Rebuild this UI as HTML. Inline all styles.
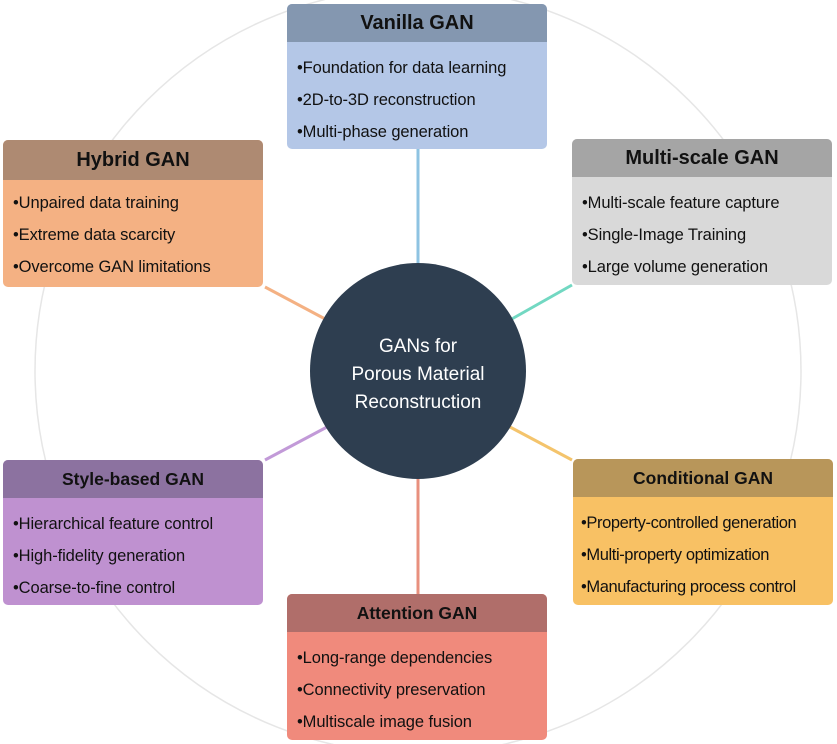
<!DOCTYPE html>
<html><head><meta charset="utf-8"><style>
body{margin:0;width:837px;height:744px;background:#fff;position:relative;overflow:hidden;font-family:"Liberation Sans",sans-serif}
.b{position:absolute;width:260px;border-radius:5px;overflow:hidden}
.h{height:38px;line-height:38px;text-align:center;font-weight:bold;font-size:20px;color:#111}
.bd{padding:10px 0 0 10px;font-size:16.5px;color:#111;letter-spacing:-0.1px}
.bd div{height:32px;line-height:32px;white-space:nowrap}
</style></head><body>
<svg width="837" height="744" style="position:absolute;left:0;top:0">
<circle cx="418" cy="371" r="383" fill="none" stroke="#e6e6e6" stroke-width="1.5"/>
<line x1="418" y1="149" x2="418" y2="265" stroke="#8ec3e2" stroke-width="3"/>
<line x1="265" y1="287" x2="327" y2="320" stroke="#f4b183" stroke-width="3"/>
<line x1="572" y1="285" x2="510" y2="320" stroke="#72d8c2" stroke-width="3"/>
<line x1="265" y1="460" x2="327" y2="427" stroke="#c29ad8" stroke-width="3"/>
<line x1="572" y1="460" x2="510" y2="427" stroke="#f4c46c" stroke-width="3"/>
<line x1="418" y1="478" x2="418" y2="594" stroke="#e8907e" stroke-width="3"/>
<circle cx="418" cy="371" r="108" fill="#2e3e50"/>
<text x="418" y="352" fill="#fff" font-size="19" text-anchor="middle" font-family="Liberation Sans">GANs for</text>
<text x="418" y="380" fill="#fff" font-size="19" text-anchor="middle" font-family="Liberation Sans">Porous Material</text>
<text x="418" y="408" fill="#fff" font-size="19" text-anchor="middle" font-family="Liberation Sans">Reconstruction</text>
</svg>
<div class="b" style="left:287px;top:4px;height:145px;background:#b4c7e7"><div class="h" style="background:#8497b0">Vanilla GAN</div><div class="bd"><div>•Foundation for data learning</div><div>•2D-to-3D reconstruction</div><div>•Multi-phase generation</div></div></div>
<div class="b" style="left:3px;top:140px;height:147px;background:#f4b183"><div class="h" style="background:#ae8a72;height:40px;line-height:40px">Hybrid GAN</div><div class="bd" style="padding-top:7px"><div>•Unpaired data training</div><div>•Extreme data scarcity</div><div>•Overcome GAN limitations</div></div></div>
<div class="b" style="left:572px;top:139px;height:146px;background:#d9d9d9"><div class="h" style="background:#a5a5a5">Multi-scale GAN</div><div class="bd"><div>•Multi-scale feature capture</div><div>•Single-Image Training</div><div>•Large volume generation</div></div></div>
<div class="b" style="left:3px;top:460px;height:145px;background:#bf91d0"><div class="h" style="background:#8c72a0;font-size:17.5px">Style-based GAN</div><div class="bd"><div>•Hierarchical feature control</div><div>•High-fidelity generation</div><div>•Coarse-to-fine control</div></div></div>
<div class="b" style="left:573px;top:459px;height:146px;background:#f8c164"><div class="h" style="background:#b8965a;font-size:17.5px">Conditional GAN</div><div class="bd" style="padding-left:8px;letter-spacing:-0.4px"><div>•Property-controlled generation</div><div>•Multi-property optimization</div><div>•Manufacturing process control</div></div></div>
<div class="b" style="left:287px;top:594px;height:146px;background:#f08a7c"><div class="h" style="background:#b06e6a;font-size:17.5px">Attention GAN</div><div class="bd"><div>•Long-range dependencies</div><div>•Connectivity preservation</div><div>•Multiscale image fusion</div></div></div>
</body></html>
